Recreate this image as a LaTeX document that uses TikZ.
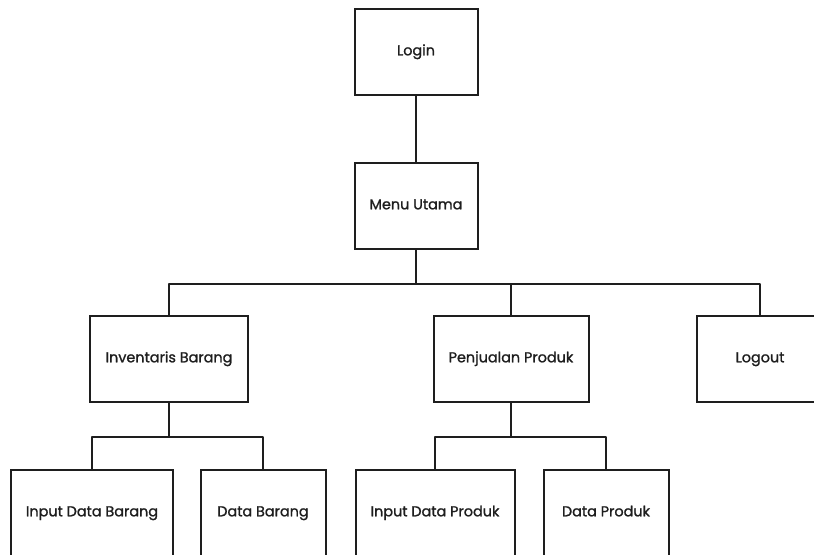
\documentclass[tikz,border=0pt]{standalone}
\usepackage{fontspec}
\setmainfont{Poppins}
\newfontfamily\boxfont{Poppins}[UprightFeatures={FakeBold=1.2}]
\definecolor{ink}{HTML}{1E1E1E}
\usetikzlibrary{positioning}
\tikzset{
  menubox/.style={draw=ink,line width=1.5pt,fill=white,align=center,text=ink,
              minimum height=64.5pt,inner sep=2pt,text height=0.75em,text depth=0.25em,
              font=\boxfont\fontsize{10.8}{12}\selectfont},
  tree/.style={draw=ink,line width=1.5pt,line join=round}
}

\begin{document}
\begin{tikzpicture}[x=0.75pt,y=-0.75pt]
    \useasboundingbox (0,0) rectangle (814,555);
    % boxes: x/y/width(pt)/name/text
    \foreach \x/\y/\w/\n/\t in {416/52/92.25/login/Login,416/206/92.25/menu/Menu Utama,
        169/359/118.5/inv/Inventaris Barang,511/359/116.25/jual/Penjualan Produk,760/359/94.5/logout/Logout,
        92/513/121.5/inb/Input Data Barang,263/513/93.75/db/Data Barang,
        435/513/119.25/inp/Input Data Produk,606/513/93.75/dp/Data Produk}{
      \node[menubox,minimum width=\w pt] (\n) at (\x,\y) {\t};
    }
    \draw[tree] (login) -- (menu);
    \foreach \c in {inv,jual,logout}
      \draw[tree] (menu.south) -- ++(0,34) -| (\c.north);
    \foreach \c in {inb,db}
      \draw[tree] (inv.south) -- ++(0,34) -| (\c.north);
    \foreach \c in {inp,dp}
      \draw[tree] (jual.south) -- ++(0,34) -| (\c.north);
  \end{tikzpicture}
\end{document}
